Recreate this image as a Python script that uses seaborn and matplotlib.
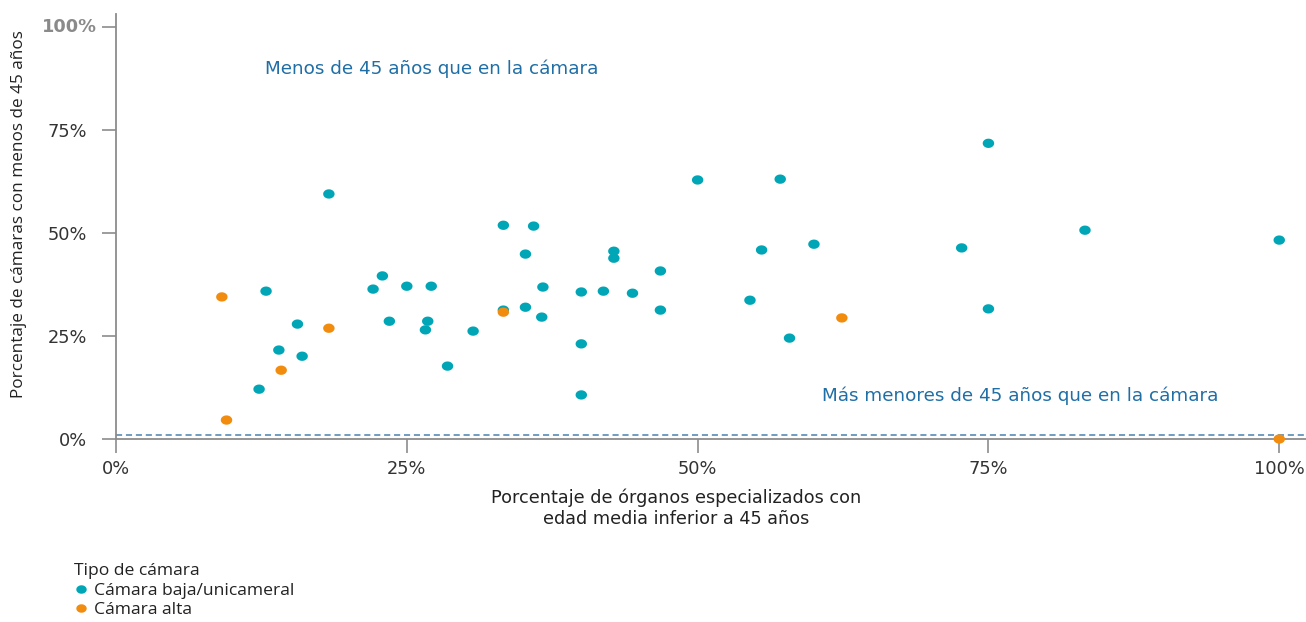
import matplotlib
matplotlib.use("Agg")
import numpy as np
import matplotlib.pyplot as plt
import matplotlib.ticker as mticker
from matplotlib.lines import Line2D
from matplotlib.path import Path
import seaborn as sns
import pandas as pd

# Lower / unicameral chambers
baja_x = [100, 75, 83.3, 72.7, 75, 60, 55.5, 57.1, 50, 54.5, 57.9, 46.8, 46.8,
          42.8, 42.8, 44.4, 41.9, 40, 40, 40, 36.7, 36.6, 35.9, 35.2, 35.2,
          33.3, 33.3, 30.7, 28.5, 27.1, 26.8, 26.6, 25, 23.5, 22.9, 22.1,
          18.3, 16.0, 15.6, 14.0, 12.9, 12.3]
baja_y = [48.3, 71.8, 50.7, 46.4, 31.6, 47.3, 45.9, 63.1, 62.9, 33.7, 24.5, 40.8, 31.3,
          45.6, 43.9, 35.4, 35.9, 35.7, 23.1, 10.7, 36.9, 29.6, 51.7, 44.9, 32.0,
          51.9, 31.3, 26.2, 17.7, 37.1, 28.6, 26.5, 37.1, 28.6, 39.6, 36.4,
          59.5, 20.1, 27.9, 21.6, 35.9, 12.1]

# Upper chambers
alta_x = [9.1, 18.3, 14.2, 9.5, 33.3, 62.4, 100]
alta_y = [34.5, 26.9, 16.7, 4.6, 30.8, 29.4, 0]

labels = ["Cámara baja/unicameral", "Cámara alta"]
colors = ["#00A6B6", "#F28C0F"]
x_ticks = [0, 25, 50, 75, 100]
y_ticks = [0, 25, 50, 75, 100]
reference_level = 1

df = pd.DataFrame({
    "x": baja_x + alta_x,
    "y": baja_y + alta_y,
    "tipo": [labels[0]] * len(baja_x) + [labels[1]] * len(alta_x),
})

sns.set_style("white")
plt.rcParams["font.family"] = ["DejaVu Sans"]

# slightly wide oval marker
theta = np.linspace(0, 2 * np.pi, 41)
oval = Path(np.column_stack([1.23 * np.cos(theta), np.sin(theta)]), closed=True)

fig = plt.figure(figsize=(13.06, 6.22), dpi=100)
ax = fig.add_axes([116 / 1306, 1 - 439 / 622, (1306 - 116) / 1306, (439 - 14) / 622])

sns.scatterplot(data=df, x="x", y="y", hue="tipo", hue_order=labels,
                palette=colors, s=68, marker=oval, linewidth=0, ax=ax,
                legend=False, clip_on=False, zorder=3)

ax.axhline(reference_level, color="#4a80b0", lw=1.1, ls=(0, (4, 2.5)), zorder=2)

ax.set_xlim(0, 102.3)
ax.set_ylim(0, 103.2)
ax.set_xticks(x_ticks)
ax.set_yticks(y_ticks)
ax.xaxis.set_major_formatter(mticker.FuncFormatter(lambda v, p: f"{v:.0f}%"))
ax.yaxis.set_major_formatter(
    mticker.FuncFormatter(lambda v, p: "" if v >= 100 else f"{v:.0f}%"))

for side in ["top", "right"]:
    ax.spines[side].set_visible(False)
for side in ["left", "bottom"]:
    ax.spines[side].set_color("#8c8c8c")
    ax.spines[side].set_linewidth(1.3)

ax.tick_params(axis="both", which="both", bottom=True, left=True, length=10,
               width=1.2, color="#8c8c8c", labelsize=12.8, labelcolor="#333333",
               direction="out")
ax.tick_params(axis="x", pad=5)
ax.tick_params(axis="y", pad=11)

ax.annotate("100%", xy=(0, 100), xycoords=("axes fraction", "data"),
            xytext=(-19, 0), textcoords="offset pixels", ha="right", va="center",
            fontsize=12.8, fontweight="bold", color="#8a8a8a")

ax.set_xlabel("Porcentaje de órganos especializados con\nedad media inferior a 45 años",
              fontsize=12.7, color="#222222", linespacing=1.2)
ax.xaxis.set_label_coords((676 - 116) / 1190, -0.116)
ax.set_ylabel("Porcentaje de cámaras con menos de 45 años",
              fontsize=12.3, color="#222222", family="Open Sans")
ax.yaxis.set_label_coords((27 - 116) / 1190, (439 - 214) / 425)

ax.text(12.8, 89.8, "Menos de 45 años que en la cámara", fontsize=13.2,
        color="#1f6ea6", va="center", ha="left")
ax.text(60.7, 10.5, "Más menores de 45 años que en la cámara", fontsize=13.2,
        color="#1f6ea6", va="center", ha="left")

handles = [Line2D([0], [0], marker=oval, ls="", markersize=7.5, color=c,
                  markeredgewidth=0) for c in colors]
leg = fig.legend(handles, labels, title="Tipo de cámara", loc="upper left",
                 bbox_to_anchor=(67 / 1306, 1 - 556 / 622), frameon=False,
                 handletextpad=0.35, handlelength=0.8, labelspacing=0.2,
                 borderaxespad=0, alignment="left",
                 prop={"family": "Open Sans", "size": 12.6},
                 title_fontproperties={"family": "Open Sans", "size": 12.6})
leg.get_title().set_color("#222222")
for t in leg.get_texts():
    t.set_color("#222222")

fig.savefig("out.png", dpi=100)
